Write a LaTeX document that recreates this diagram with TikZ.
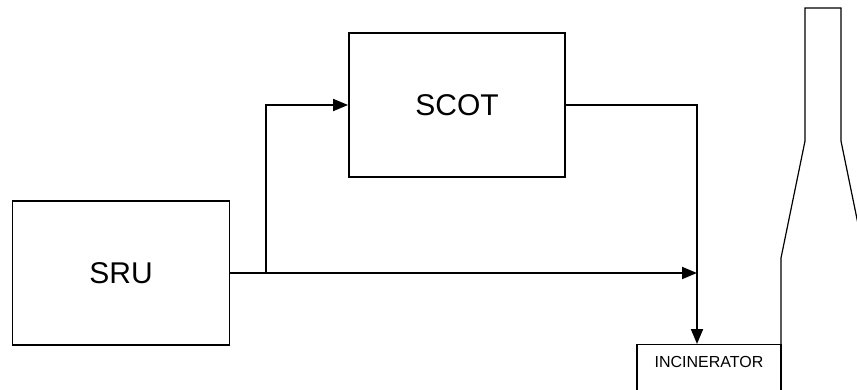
\documentclass[tikz,border=0pt]{standalone}
\usepackage{fontspec}
\setmainfont{Liberation Sans}
\usetikzlibrary{arrows.meta}

\begin{document}
\begin{tikzpicture}[x=1pt, y=-1pt, line width=1.9pt,
  unit/.style={draw, rectangle, inner sep=0pt, font=\fontsize{30}{36}\selectfont},
  arr/.style={-{Triangle[length=15pt, width=12pt]}}]
  \useasboundingbox (0,0) rectangle (857,390);
  \clip (0,0) rectangle (857,390);
  \node (sru) [unit, minimum width=217pt, minimum height=144pt] at (121,273) {SRU};
  \node (scot) [unit, minimum width=216pt, minimum height=144pt] at (457,105) {SCOT};
  \node (incin) [unit, line width=1.2pt, anchor=north, minimum width=144pt, minimum height=90pt] at (709,344) {};
  \node (incintext) [font=\fontsize{16}{19}\selectfont] at (709,362) {INCINERATOR};
  \coordinate (split) at (266,273);
  \coordinate (merge) at (697,273);
  \draw (sru.east) -- (split);
  \draw [arr] (split) |- (scot.west);
  \draw [arr] (split) -- (merge);
  \draw [arr] (scot.east) -| ([xshift=-12pt]incin.north);
  \draw [line width=1.2pt] (781,420) -- (781,258) -- (805,141) -- (805,8) -- (841,8) -- (841,141) -- (865,258) -- (865,420);
\end{tikzpicture}
\end{document}
